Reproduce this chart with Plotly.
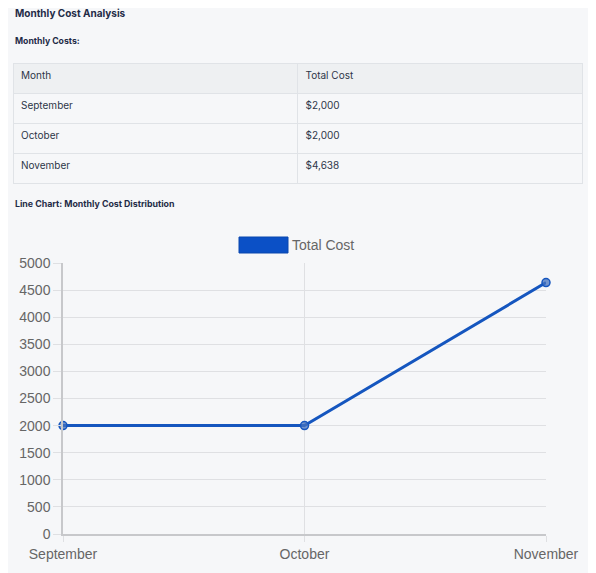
import plotly.graph_objects as go

months = ["September", "October", "November"]
total_cost = [2000, 2000, 4638]
cost_labels = ["$2,000", "$2,000", "$4,638"]
table_header = ["Month", "Total Cost"]
series_name = "Total Cost"

# the page body has an 8px margin, so the figure is shifted by that much
OFF = 8
W, H = 596 - OFF, 573 - OFF
BG = "#f6f7f9"
NAVY = "#1f2b47"
BLUE = "#1556bf"
GRID = "#dfe0e3"
TICK = "#666666"


def px(x):
    return (x - OFF) / W


def py(y):
    return 1 - (y - OFF) / H


fig = go.Figure()

fig.add_trace(go.Table(
    domain=dict(x=[px(13), px(582)], y=[py(200), py(63)]),
    columnwidth=[1, 1],
    header=dict(
        values=table_header,
        align="left",
        height=30,
        fill_color="#eef0f2",
        line_color="#e0e3e7",
        font=dict(family="Inter", size=10, color="#2d3648"),
    ),
    cells=dict(
        values=[months, cost_labels],
        align="left",
        height=30,
        fill_color=BG,
        line_color="#e0e3e7",
        font=dict(family="Inter", size=10, color="#2d3648"),
    ),
))

fig.add_trace(go.Scatter(
    x=months,
    y=total_cost,
    name=series_name,
    mode="lines+markers",
    line=dict(color=BLUE, width=3),
    marker=dict(size=8, color="rgba(70,115,190,0.75)",
                line=dict(color=BLUE, width=1.5)),
    showlegend=False,
    cliponaxis=False,
))

fig.update_layout(
    width=W,
    height=H,
    autosize=False,
    margin=dict(l=0, r=0, t=0, b=0, pad=0, autoexpand=False),
    paper_bgcolor="#ffffff",
    plot_bgcolor=BG,
    font=dict(family="Liberation Sans", size=14, color=TICK),
    xaxis=dict(
        domain=[px(63), px(546)],
        type="category",
        range=[0, len(months) - 1],
        automargin=False,
        showgrid=True,
        gridcolor=GRID,
        showline=True,
        linecolor="#c7c8cb",
        linewidth=2,
        ticks="outside",
        ticklen=6,
        tickcolor=GRID,
        tickfont=dict(size=14, color=TICK),
        zeroline=False,
    ),
    yaxis=dict(
        domain=[py(534), py(263)],
        range=[0, 5000],
        dtick=500,
        automargin=False,
        showgrid=True,
        gridcolor=GRID,
        showline=True,
        linecolor="#c7c8cb",
        linewidth=1.5,
        ticks="outside",
        ticklen=8,
        tickcolor=GRID,
        tickfont=dict(size=14, color=TICK),
        zeroline=False,
    ),
    shapes=[
        dict(type="rect", xref="paper", yref="paper", layer="below",
             x0=0, x1=px(590), y0=0, y1=1,
             fillcolor=BG, line_width=0),
        dict(type="rect", xref="paper", yref="paper",
             x0=px(239), x1=px(288), y0=py(253), y1=py(237),
             fillcolor="#0b50c6", line=dict(color="#0a46ad", width=1)),
    ],
    annotations=[
        dict(text="<b>Monthly Cost Analysis</b>", x=px(13), y=py(13),
             xref="paper", yref="paper", xanchor="left", yanchor="middle",
             showarrow=False, font=dict(family="Inter", size=10, color=NAVY)),
        dict(text="<b>Monthly Costs:</b>", x=px(13), y=py(41),
             xref="paper", yref="paper", xanchor="left", yanchor="middle",
             showarrow=False, font=dict(family="Inter", size=8.7, color=NAVY)),
        dict(text="<b>Line Chart: Monthly Cost Distribution</b>", x=px(13), y=py(203),
             xref="paper", yref="paper", xanchor="left", yanchor="middle",
             showarrow=False, font=dict(family="Inter", size=8.8, color=NAVY)),
        dict(text=series_name, x=px(290), y=py(245),
             xref="paper", yref="paper", xanchor="left", yanchor="middle",
             showarrow=False, font=dict(family="Liberation Sans", size=14, color=TICK)),
    ],
)

fig.write_html("out.html")
